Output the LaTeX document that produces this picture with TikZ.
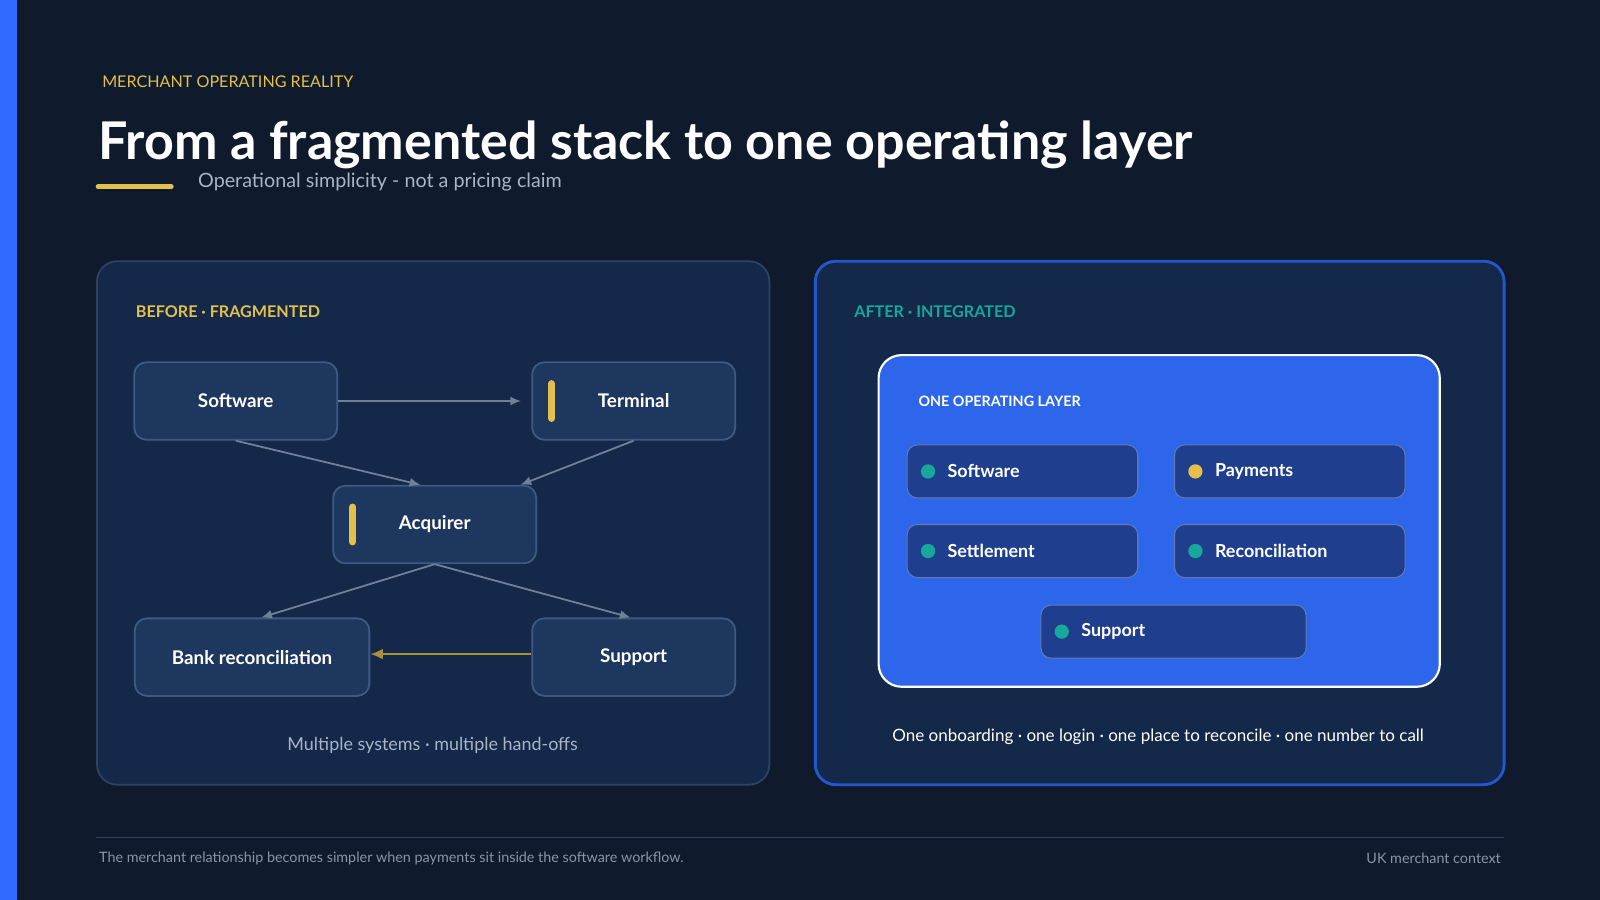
\documentclass[tikz,border=0pt]{standalone}
\usepackage{fontspec}
\setmainfont{Lato}
\usetikzlibrary{calc,positioning,arrows.meta}
\definecolor{bg}{HTML}{0F1B2D}
\definecolor{panel}{HTML}{14284A}
\definecolor{panelline}{HTML}{2E4262}
\definecolor{nodefill}{HTML}{1E375E}
\definecolor{nodeline}{HTML}{3F5A80}
\definecolor{accentblue}{HTML}{2F6BFF}
\definecolor{layerblue}{HTML}{2D66EA}
\definecolor{chip}{HTML}{1F3F8E}
\definecolor{gold}{HTML}{E3C04A}
\definecolor{teal}{HTML}{16A89A}
\definecolor{greytext}{HTML}{A9B4C6}
\definecolor{arrowgrey}{HTML}{6F8199}
\tikzset{
  box/.style={draw=nodeline, line width=1pt, fill=nodefill, rounded corners=0.24cm,
    minimum width=3.98cm, minimum height=1.52cm, text=white, font=\bfseries\fontsize{10.5}{12}\selectfont},
  chipbox/.style={draw=chip!70!white, line width=0.6pt, fill=chip, rounded corners=0.2cm,
    minimum width=4.52cm, minimum height=1.04cm},
  chiplabel/.style={anchor=west, text=white, font=\bfseries\fontsize{10}{12}\selectfont},
  flow/.style={arrowgrey, line width=1pt, -{Latex[length=6pt,width=5pt]}},
  bar/.style={gold, line width=4pt, line cap=round},
}
\begin{document}
\begin{tikzpicture}[x=0.02cm, y=-0.02cm]
  \useasboundingbox (0,0) rectangle (1568,882);
  \fill[bg] (0,0) rectangle (1568,882);
  \fill[accentblue] (0,0) rectangle (17,882);

  % heading
  \node[anchor=west, text=gold, font=\fontsize{9}{11}\selectfont] (kicker) at (94,80) {MERCHANT OPERATING REALITY};
  \node[anchor=west, text=white, font=\bfseries\fontsize{29}{34}\selectfont] (title) at (90,142) {From a fragmented stack to one operating layer};
  \draw[gold, line width=2.5pt, line cap=round] (96,183) -- (168,183);
  \node[anchor=west, text=greytext, font=\fontsize{11}{13}\selectfont] (sub) at (188,178) {Operational simplicity - not a pricing claim};

  % before panel
  \draw[panelline, fill=panel, line width=1pt, rounded corners=0.4cm] (95,256) rectangle (754,769);
  \node[anchor=west, text=gold, font=\bfseries\fontsize{9}{11}\selectfont] (before) at (127,305) {BEFORE · FRAGMENTED};
  \node[box] (sw) at (231,393) {Software};
  \node[box] (term) at (621,393) {Terminal};
  \node[box] (acq) at (426,514) {Acquirer};
  \node[box, minimum width=4.6cm] (bank) at (247,644) {Bank reconciliation};
  \node[box] (sup) at (621,644) {Support};
  \draw[bar] ($(term.west)+(20,-17)$) -- ($(term.west)+(20,17)$);
  \draw[bar] ($(acq.west)+(20,-17)$) -- ($(acq.west)+(20,17)$);
  \draw[flow] (sw.east) -- ($(term.west)+(-10,0)$);
  \draw[flow] (sw.south) -- ($(acq.north)+(-14,0)$);
  \draw[flow] (term.south) -- ($(acq.north)+(84,0)$);
  \draw[flow] (acq.south) -- ($(bank.north)+(9,0)$);
  \draw[flow] (acq.south) -- ($(sup.north)+(-3,0)$);
  \draw[gold!75!black, line width=1.3pt, -{Latex[length=7pt,width=6pt]}] ($(sup.west)+(0,-3)$) -- ($(bank.east)+(0,-3)$);
  \node[text=greytext, font=\fontsize{10}{12}\selectfont] (beforenote) at (424,731) {Multiple systems · multiple hand-offs};

  % after panel
  \draw[accentblue!80!black, fill=panel, line width=1.6pt, rounded corners=0.4cm] (799,256) rectangle (1474,769);
  \node[anchor=west, text=teal, font=\bfseries\fontsize{9}{11}\selectfont] (after) at (831,305) {AFTER · INTEGRATED};
  \draw[white, fill=layerblue, line width=1.2pt, rounded corners=0.45cm] (861,348) rectangle (1411,673);
  \node[anchor=west, text=white, font=\bfseries\fontsize{8}{10}\selectfont] (layer) at (894,393) {ONE OPERATING LAYER};
  \foreach \name/\lbl/\cx/\cy/\dot in {c1/Software/1002/462/teal, c2/Payments/1264/462/gold,
      c3/Settlement/1002/540/teal, c4/Reconciliation/1264/540/teal} {
    \node[chipbox] (\name) at (\cx,\cy) {};
    \fill[\dot] ($(\name.west)+(21,0)$) circle (7);
    \node[chiplabel] at ($(\name.west)+(34,0)$) {\lbl};
  }
  \node[chipbox, minimum width=5.2cm] (c5) at (1150,619) {};
  \fill[teal] ($(c5.west)+(21,0)$) circle (7);
  \node[chiplabel] at ($(c5.west)+(34,0)$) {Support};
  \node[text=white, font=\fontsize{9.5}{12}\selectfont] (afternote) at (1135,722) {One onboarding · one login · one place to reconcile · one number to call};

  % footer
  \draw[panelline, line width=0.8pt] (94,821) -- (1474,821);
  \node[anchor=west, text=greytext!80!bg, font=\fontsize{8}{10}\selectfont] (foot) at (91,841) {The merchant relationship becomes simpler when payments sit inside the software workflow.};
  \node[anchor=east, text=greytext!80!bg, font=\fontsize{8}{10}\selectfont] (ctx) at (1477,841) {UK merchant context};
\end{tikzpicture}
\end{document}
